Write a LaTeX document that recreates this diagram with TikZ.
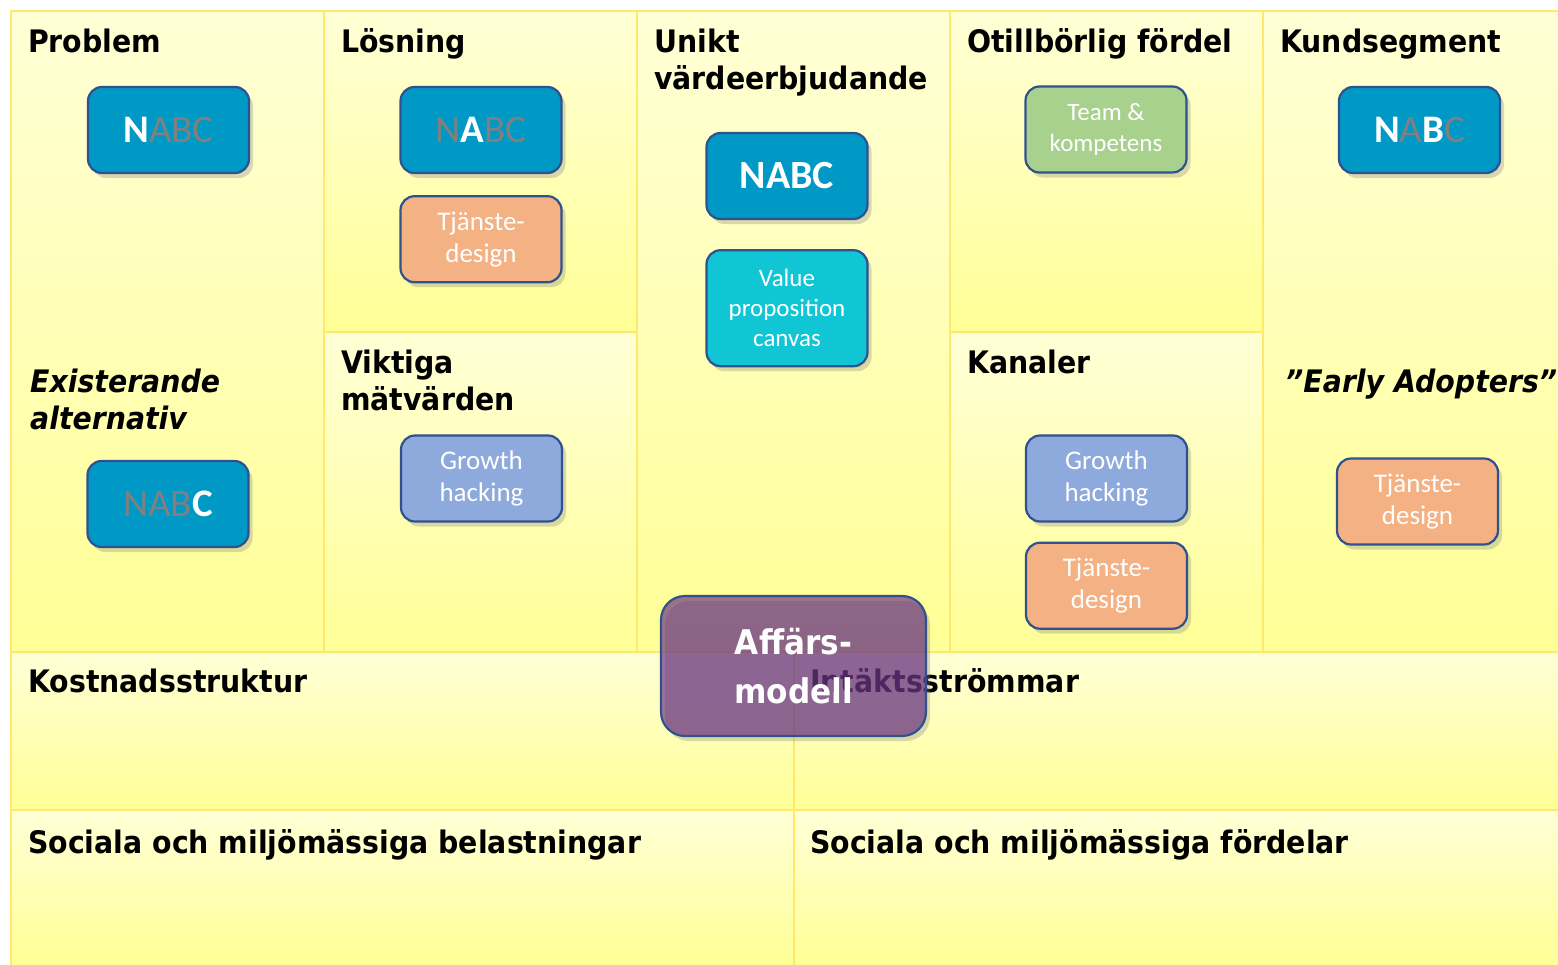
\documentclass[tikz,border=0pt]{standalone}
\usepackage{fontspec}
\setmainfont{DejaVu Sans}[FakeStretch=0.915]
\newfontfamily\cardfamily{Carlito}
\usepackage{tikz}
\usetikzlibrary{positioning, shadows}
\definecolor{canvasTop}{RGB}{255,255,214}
\definecolor{canvasBottom}{RGB}{255,255,150}
\definecolor{canvasEdge}{RGB}{255,232,110}
\definecolor{cardEdge}{RGB}{47,82,143}
\definecolor{nabcBlue}{RGB}{0,153,198}
\definecolor{nabcGray}{RGB}{128,128,128}
\definecolor{designSalmon}{RGB}{244,177,131}
\definecolor{growthBlue}{RGB}{142,169,219}
\definecolor{teamGreen}{RGB}{169,209,142}
\definecolor{canvasCyan}{RGB}{16,197,212}
\definecolor{modelPurple}{RGB}{100,40,130}
\tikzset{
  panel/.style={draw=canvasEdge, line width=1.5pt, top color=canvasTop, bottom color=canvasBottom},
  heading/.style={anchor=base west, inner sep=0pt, align=left, font=\fontsize{31}{37}\selectfont\bfseries},
  card/.style={rounded corners=14pt, draw=cardEdge, line width=2.2pt, minimum width=161pt, minimum height=86pt,
    inner sep=2pt, text=white, align=center, font=\cardfamily\fontsize{27}{32}\selectfont,
    drop shadow={shadow xshift=4pt, shadow yshift=-5pt, opacity=0.3}},
  nabc/.style={card, fill=nabcBlue, font=\cardfamily\fontsize{39}{40}\selectfont},
}
\newcommand{\faded}[1]{\textcolor{nabcGray}{#1}}

\begin{document}
\begin{tikzpicture}[x=1pt, y=-1pt]
	\useasboundingbox (0,0) rectangle (1558,964);
	% canvas panels
	\draw[panel] (11,11) rectangle (324,652);
	\draw[panel] (324,11) rectangle (637,332);
	\draw[panel] (324,332) rectangle (637,652);
	\draw[panel] (637,11) rectangle (950,652);
	\draw[panel] (950,11) rectangle (1263,332);
	\draw[panel] (950,332) rectangle (1263,652);
	\draw[panel] (1263,11) rectangle (1560,652);
	\draw[panel] (11,652) rectangle (794,810);
	\draw[panel] (794,652) rectangle (1560,810);
	\draw[panel] (11,810) rectangle (794,966);
	\draw[panel] (794,810) rectangle (1560,966);

	% headings (multi-line ones sit on their last baseline)
	\node[heading] (hdProblem) at (28,52) {Problem};
	\node[heading] (hdLosning) at (341,52) {Lösning};
	\node[heading] (hdUnikt) at (654,89) {Unikt\\värdeerbjudande};
	\node[heading] (hdFordel) at (967,52) {Otillbörlig fördel};
	\node[heading] (hdKund) at (1280,52) {Kundsegment};
	\node[heading, font=\fontsize{31}{37}\selectfont\bfseries\itshape] (hdAlt) at (30,429) {Existerande\\alternativ};
	\node[heading] (hdMatt) at (341,410) {Viktiga\\mätvärden};
	\node[heading] (hdKanal) at (967,373) {Kanaler};
	\node[heading, font=\fontsize{31}{37}\selectfont\bfseries\itshape] (hdEarly) at (1285,392) {”Early Adopters”};
	\node[heading] (hdKostnad) at (28,692) {Kostnadsstruktur};
	\node[heading] (hdIntakt) at (810,692) {Intäktsströmmar};
	\node[heading] (hdSocNeg) at (28,853) {Sociala och miljömässiga belastningar};
	\node[heading] (hdSocPos) at (810,853) {Sociala och miljömässiga fördelar};

	% cards
	\node[nabc] (probNabc) at (168.5,130) {\textbf{N}\faded{ABC}};
	\node[nabc] (altNabc) at (168,504) {\faded{NAB}\textbf{C}};
	\node[nabc] (losNabc) at (481,130) {\faded{N}\textbf{A}\faded{BC}};
	\node[card, fill=designSalmon, below=21pt of losNabc] (losDesign) {Tjänste-\\design};
	\node[nabc, font=\cardfamily\bfseries\fontsize{40}{40}\selectfont] (uvpNabc) at (787,176) {NABC};
	\node[card, fill=canvasCyan, minimum height=116pt, font=\cardfamily\fontsize{25}{30}\selectfont,
		below=29pt of uvpNabc] (uvpCanvas) {Value\\proposition\\canvas};
	\node[card, fill=growthBlue] (mattGrowth) at (481.5,478.5) {Growth\\hacking};
	\node[card, fill=teamGreen, font=\cardfamily\fontsize{25}{31}\selectfont] (fordelTeam) at (1106,129.5) {Team \&\\kompetens};
	\node[card, fill=growthBlue] (kanGrowth) at (1106.5,478.5) {Growth\\hacking};
	\node[card, fill=designSalmon, below=19pt of kanGrowth] (kanDesign) {Tjänste-\\design};
	\node[nabc] (kundNabc) at (1419.5,130) {\textbf{N}\faded{A}\textbf{B}\faded{C}};
	\node[card, fill=designSalmon] (kundDesign) at (1417.5,501.5) {Tjänste-\\design};

	% business model overlay
	\node[card, fill=modelPurple, fill opacity=0.65, text opacity=1, minimum width=265pt, minimum height=140pt,
		rounded corners=24pt, font=\fontsize{34}{49}\selectfont\bfseries] (affars) at (793.5,666) {Affärs-\\modell};
\end{tikzpicture}
\end{document}
